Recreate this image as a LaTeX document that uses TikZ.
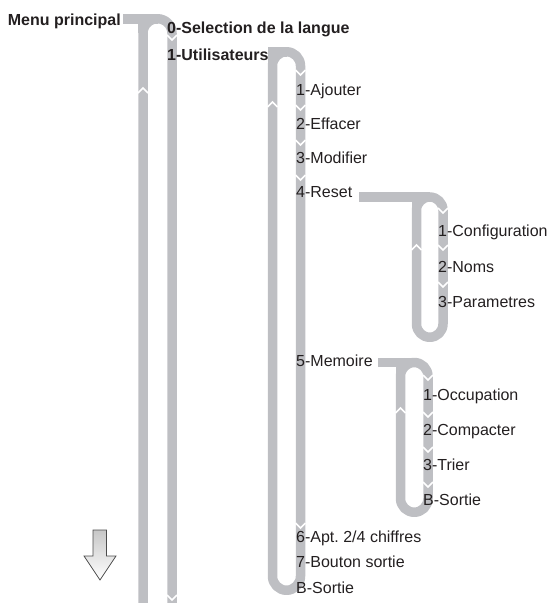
\documentclass[tikz,border=0pt]{standalone}
\usepackage{fontspec}
\setmainfont{Liberation Sans}
\definecolor{trackgray}{RGB}{190,191,195}
\definecolor{txt}{RGB}{35,31,32}
\begin{document}
\begin{tikzpicture}[x=1pt,y=-1pt,
  track/.style={draw=trackgray,line width=9.5pt,line cap=butt,line join=round},
  chev/.style={draw=white,line width=1.5pt},
  item/.style={anchor=base west,inner sep=0pt,text=txt,font=\fontsize{16}{19}\selectfont},
  head/.style={item,font=\fontsize{16}{19}\selectfont\bfseries}]
\useasboundingbox (0,0) rectangle (551,603);
\clip (0,0) rectangle (551,603);
% ---- main loop
\draw[track] (123,18.75) -- (157.5,18.75);
\draw[track] (143,14) -- (143,33.25);
\draw[track] (143,610) -- (143,33.25) arc[start angle=180,end angle=360,radius=14.5] -- (172,610);
% ---- Utilisateurs loop
\draw[track] (268,51.75) -- (286.5,51.75);
\draw[track] (272.5,47) -- (272.5,65.75);
\draw[track] (272.5,65.75) arc[start angle=180,end angle=360,radius=14] -- (300.5,576.25) arc[start angle=0,end angle=180,radius=14] -- cycle;
% ---- Reset loop
\draw[track] (359,197) -- (429.75,197);
\draw[track] (416.5,192.25) -- (416.5,210.25);
\draw[track] (416.5,210.25) arc[start angle=180,end angle=360,radius=13.25] -- (443,324) arc[start angle=0,end angle=180,radius=13.25] -- cycle;
% ---- Memoire loop
\draw[track] (378,362.5) -- (414.25,362.5);
\draw[track] (400.5,357.75) -- (400.5,376.25);
\draw[track] (400.5,376.25) arc[start angle=180,end angle=360,radius=13.75] -- (428,498.5) arc[start angle=0,end angle=180,radius=13.75] -- cycle;
% ---- chevrons (down on right strands, up on left strands)
\foreach \x/\y in {172/40,172/600,300.5/75,300.5/110,300.5/145,300.5/180,300.5/528,443/213,443/250,443/287,428/380,428/417,428/452,428/487}
  \draw[chev] (\x-5,\y-5) -- (\x,\y) -- (\x+5,\y-5);
\foreach \x/\y in {143/88,272.5/102,416.5/245,400.5/408}
  \draw[chev] (\x-5,\y+5) -- (\x,\y) -- (\x+5,\y+5);
% ---- texts
\node[head,anchor=base east] (mp) at (121,25) {Menu principal};
\node[head] (m0) at (167,33) {0-Selection de la langue};
\node[head] (m1) at (167,60) {1-Utilisateurs};
\node[item] (u1) at (296,95) {1-Ajouter};
\node[item] (u2) at (296,129) {2-Effacer};
\node[item] (u3) at (296,163) {3-Modifier};
\node[item] (u4) at (296,197) {4-Reset};
\node[item] (u5) at (296,366) {5-Memoire};
\node[item] (u6) at (296,542) {6-Apt.\ 2/4 chiffres};
\node[item] (u7) at (296,567) {7-Bouton sortie};
\node[item] (u8) at (296,593) {B-Sortie};
\node[item] (r1) at (438,236) {1-Configuration};
\node[item] (r2) at (438,272) {2-Noms};
\node[item] (r3) at (438,307) {3-Parametres};
\node[item] (s1) at (423,400) {1-Occupation};
\node[item] (s2) at (423,435) {2-Compacter};
\node[item] (s3) at (423,470) {3-Trier};
\node[item] (s4) at (423,505) {B-Sortie};
% ---- down arrow
\draw[draw=black!70,line width=0.8pt,top color=black!22,bottom color=white,line join=miter]
  (93,530) -- (106.5,530) -- (106.5,556) -- (116,556) -- (100,580) -- (84,556) -- (93,556) -- cycle;
\end{tikzpicture}
\end{document}
